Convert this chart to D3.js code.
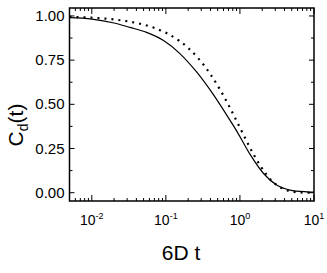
<!DOCTYPE html>
<html><head><meta charset="utf-8">
<script src="https://cdn.jsdelivr.net/npm/d3@7"></script>
<style>html,body{margin:0;padding:0;background:#fff;}svg{display:block;}</style>
</head><body>
<script>
// Data
const tSolid = [0.005, 0.01, 0.02, 0.0327, 0.0548, 0.092, 0.1546, 0.26, 0.436, 0.661, 0.902, 1.365, 2.07, 3.13, 4.74, 7.96, 10];
const cSolid = [0.990, 0.982, 0.960, 0.935, 0.907, 0.862, 0.787, 0.683, 0.556, 0.440, 0.350, 0.218, 0.110, 0.043, 0.015, 0.005, 0.003];
const tDotted = [0.005, 0.01, 0.02, 0.0446, 0.07, 0.103, 0.15, 0.2, 0.27, 0.394, 0.537, 0.71, 0.855, 1.0, 1.32, 1.55, 1.86, 2.32, 2.88, 3.58, 4.46, 5.89, 8.03, 10];
const cDotted = [0.995, 0.990, 0.980, 0.956, 0.932, 0.902, 0.861, 0.819, 0.763, 0.674, 0.584, 0.492, 0.425, 0.368, 0.267, 0.212, 0.156, 0.098, 0.056, 0.028, 0.0116, 0.0028, 0.0003, 0.0001];
const yTicks = [0.00, 0.25, 0.50, 0.75, 1.00];
const yMinor = [0.125, 0.375, 0.625, 0.875];
const xTicks = [0.01, 0.1, 1, 10];
const xTickExp = ["-2", "-1", "0", "1"];
const xLabel = "6D t";

const W = 327, H = 273;
const m = {l: 69.5, r: 314, t: 8, b: 201};
const svg = d3.select("body").append("svg").attr("width", W).attr("height", H);

const x = d3.scaleLog().domain([0.005, 10]).range([m.l, m.r]);
const y = d3.scaleLinear().domain([-0.047, 1.045]).range([m.b, m.t]);

const fontTick = "'Liberation Sans Narrow','Arial Narrow','Liberation Sans',sans-serif";
const fontLab = "'Liberation Sans',Arial,sans-serif";

const xMinor = [];
[0.001, 0.01, 0.1, 1].forEach(d => { for (let k = 2; k <= 9; k++) { const v = d * k; if (v >= 0.005 && v <= 10) xMinor.push(v); } });

const g = svg.append("g");
const tickStyle = sel => sel.attr("stroke", "#000").attr("stroke-width", 1);

g.selectAll(".xb").data(xTicks).join("line").call(tickStyle)
  .attr("x1", d => x(d)).attr("x2", d => x(d)).attr("y1", m.b).attr("y2", m.b - 6);
g.selectAll(".xbm").data(xMinor).join("line").call(tickStyle)
  .attr("x1", d => x(d)).attr("x2", d => x(d)).attr("y1", m.b).attr("y2", m.b - 3);
g.selectAll(".xt").data(xTicks).join("line").call(tickStyle)
  .attr("x1", d => x(d)).attr("x2", d => x(d)).attr("y1", m.t).attr("y2", m.t + 6);
g.selectAll(".xtm").data(xMinor).join("line").call(tickStyle)
  .attr("x1", d => x(d)).attr("x2", d => x(d)).attr("y1", m.t).attr("y2", m.t + 3);
g.selectAll(".yl").data(yTicks).join("line").call(tickStyle)
  .attr("y1", d => y(d)).attr("y2", d => y(d)).attr("x1", m.l).attr("x2", m.l + 5);
g.selectAll(".ylm").data(yMinor).join("line").call(tickStyle)
  .attr("y1", d => y(d)).attr("y2", d => y(d)).attr("x1", m.l).attr("x2", m.l + 3);
g.selectAll(".yr").data(yTicks).join("line").call(tickStyle)
  .attr("y1", d => y(d)).attr("y2", d => y(d)).attr("x1", m.r).attr("x2", m.r - 5);
g.selectAll(".yrm").data(yMinor).join("line").call(tickStyle)
  .attr("y1", d => y(d)).attr("y2", d => y(d)).attr("x1", m.r).attr("x2", m.r - 3);

svg.append("rect").attr("x", m.l).attr("y", m.t).attr("width", m.r - m.l).attr("height", m.b - m.t)
  .attr("fill", "none").attr("stroke", "#000").attr("stroke-width", 1.5);

svg.selectAll(".ylab").data(yTicks).join("text")
  .attr("x", m.l - 5).attr("y", d => y(d) + 5)
  .attr("text-anchor", "end").attr("font-family", fontTick).attr("font-size", 15)
  .text(d => d.toFixed(2));

const xl = svg.selectAll(".xlab").data(xTicks).join("text")
  .attr("x", d => x(d)).attr("y", 225)
  .attr("text-anchor", "middle").attr("font-family", fontTick).attr("font-size", 14);
xl.append("tspan").text("10");
xl.append("tspan").attr("dy", -6).attr("font-size", 9).text((d, i) => xTickExp[i]);

svg.append("text").attr("x", 181).attr("y", 260)
  .attr("text-anchor", "middle").attr("font-family", fontLab).attr("font-size", 21)
  .text(xLabel);
const yl = svg.append("text").attr("transform", "translate(23,125) rotate(-90)")
  .attr("text-anchor", "middle").attr("font-family", fontLab).attr("font-size", 21);
yl.append("tspan").text("C");
yl.append("tspan").attr("font-size", 14).attr("dy", 5).text("d");
yl.append("tspan").attr("dy", -5).text("(t)");

svg.append("clipPath").attr("id", "c").append("rect")
  .attr("x", m.l).attr("y", m.t).attr("width", m.r - m.l).attr("height", m.b - m.t);
const line = d3.line().x(d => x(d[0])).y(d => y(d[1])).curve(d3.curveMonotoneX);
svg.append("path").datum(tSolid.map((t, i) => [t, cSolid[i]]))
  .attr("d", line).attr("fill", "none").attr("stroke", "#000").attr("stroke-width", 1.2)
  .attr("clip-path", "url(#c)");
svg.append("path").datum(tDotted.map((t, i) => [t, cDotted[i]]))
  .attr("d", line).attr("fill", "none").attr("stroke", "#000").attr("stroke-width", 2.2)
  .attr("stroke-dasharray", "2,5").attr("clip-path", "url(#c)");
</script>
</body></html>
